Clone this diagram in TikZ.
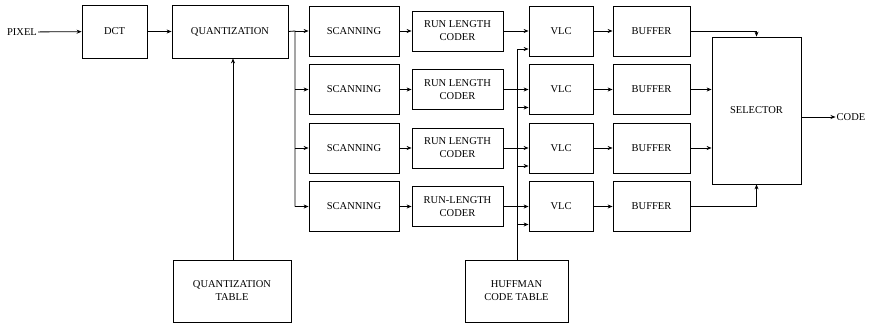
\documentclass[tikz,border=0pt]{standalone}
\usepackage{fontspec}
\setmainfont{Liberation Serif}
\usetikzlibrary{positioning,arrows.meta,calc}

\begin{document}
\begin{tikzpicture}[
  x=1pt, y=-1pt,
  font=\fontsize{10.5}{13}\selectfont,
  blk/.style={draw=black, line width=0.8pt, align=center, inner sep=1pt},
  dctbox/.style={blk, minimum width=65pt, minimum height=53pt},
  quantbox/.style={blk, minimum width=116pt, minimum height=53pt},
  tblbox/.style={blk, minimum height=62pt},
  scanbox/.style={blk, minimum width=90pt, minimum height=50pt},
  rlcbox/.style={blk, minimum width=91pt, minimum height=40pt},
  vlcbox/.style={blk, minimum width=64pt, minimum height=50pt},
  bufbox/.style={blk, minimum width=77pt, minimum height=50pt},
  selbox/.style={blk, minimum width=89pt, minimum height=147pt},
  arr/.style={-{Stealth[length=5pt,width=4pt]}, line width=0.8pt},
  ln/.style={line width=0.8pt}
]
\useasboundingbox (0,0) rectangle (872,326);
% ================= front end: pixel -> DCT -> quantization =================
\node[inner sep=1pt] (pix) at (22,32) {PIXEL};
\node[dctbox]   (dct)   at (114.5,31.5) {DCT};
\node[quantbox] (quant) at (230,31.5) {QUANTIZATION};
\node[tblbox, minimum width=118pt] (qtab) at (232,291) {QUANTIZATION\\TABLE};
\draw[arr] (pix) -- (dct);
\draw[arr] (dct) -- (quant);
\draw[arr] (qtab.north -| 233,0) -- (quant.south -| 233,0);
% ================= four parallel coding lanes =================
\foreach \i/\y/\rl in {1/31/RUN LENGTH, 2/89.5/RUN LENGTH, 3/148/RUN LENGTH, 4/206.5/RUN-LENGTH}{
  \node[scanbox] (scan\i) at (354,\y)   {SCANNING};
  \node[rlcbox]  (rlc\i)  at (457.5,\y) {\rl\\CODER};
  \node[vlcbox]  (vlc\i)  at (561,\y)   {VLC};
  \node[bufbox]  (buf\i)  at (651.5,\y) {BUFFER};
  \coordinate (qb\i) at (295,\y);
  \draw[arr] (qb\i) -- (scan\i);
  \draw[arr] (scan\i) -- (rlc\i);
  \draw[arr] (rlc\i) -- (vlc\i);
  \draw[arr] (vlc\i) -- (buf\i);
  \coordinate (hb\i) at (517,\y+18);
  \draw[arr] (hb\i) -- (hb\i -| vlc\i.west);
}
% quantizer output bus
\draw[ln] (quant.east) -- (qb1) -- (qb4);
% ================= Huffman table feeding every VLC =================
\node[tblbox, minimum width=103pt] (huff) at (516.5,291) {HUFFMAN\\CODE TABLE};
\draw[ln] (huff.north -| hb1) -- (hb1);
% ================= buffers -> selector -> code =================
\node[selbox] (sel) at (756.5,110.5) {SELECTOR};
\draw[arr] (buf1.east) -| (sel.north);
\draw[arr] (buf2.east) -- (buf2.east -| sel.west);
\draw[arr] (buf3.east) -- (buf3.east -| sel.west);
\draw[arr] (buf4.east) -| (sel.south);
\node[inner sep=1pt] (code) at (851,117) {CODE};
\draw[arr] (sel.east |- code) -- (code);
\end{tikzpicture}
\end{document}
